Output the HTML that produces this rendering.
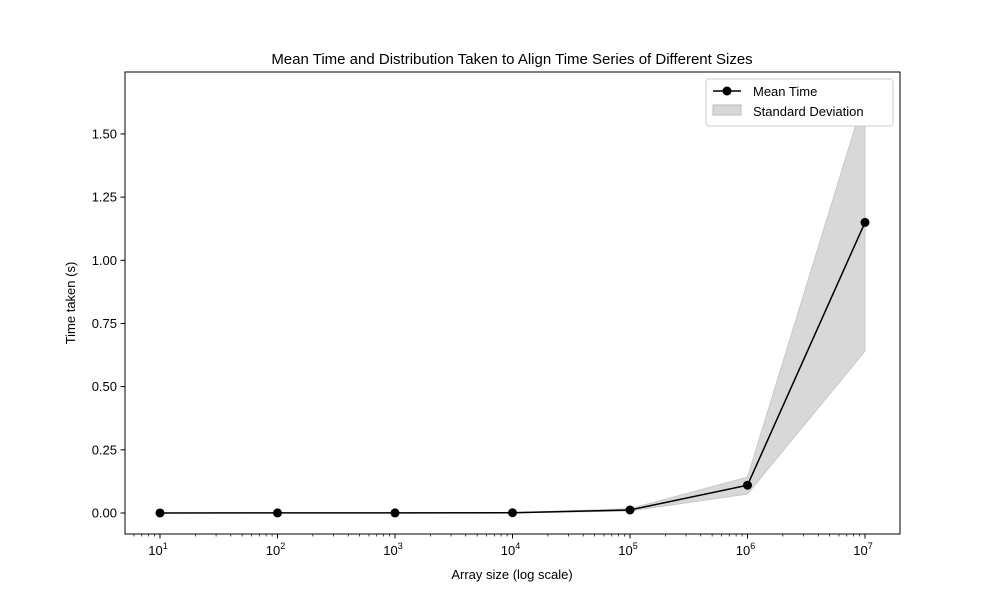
<!DOCTYPE html>
<html><head><meta charset="utf-8"><style>
body{margin:0;background:#fff;}
svg{display:block;font-family:"Liberation Sans","DejaVu Sans",sans-serif;}
</style></head><body>
<svg id="chart" width="1000" height="600">
<text x="512" y="64" font-size="15" text-anchor="middle">Mean Time and Distribution Taken to Align Time Series of Different Sizes</text>
<g id="band"></g>
<g id="line"></g>
<g id="axes"></g>
<rect x="125" y="72" width="775" height="462" fill="none" stroke="#000" stroke-width="1"/>
<text x="512" y="579" font-size="13" text-anchor="middle">Array size (log scale)</text>
<text transform="translate(75,303) rotate(-90)" font-size="13" text-anchor="middle">Time taken (s)</text>
<g>
<rect x="706" y="79" width="187" height="47" rx="3" fill="#fff" fill-opacity="0.97" stroke="#ccc"/>
<g>
<line x1="713" y1="91" x2="741" y2="91" stroke="#000" stroke-width="1.5"/>
<circle cx="727" cy="91" r="4.5" fill="#000"/>
<text x="753" y="96" font-size="13">Mean Time</text></g>
<g>
<rect x="713" y="105" width="28" height="10" fill="#d8d8d8" stroke="#bbb"/>
<text x="753" y="116" font-size="13">Standard Deviation</text></g>
</g>
</svg>
<script>
const sizesExp=[1,2,3,4,5,6,7];
const meanTime=[0.0002,0.0003,0.0004,0.001,0.012,0.11,1.15];
const upperStd=[0.0003,0.0004,0.0005,0.0015,0.017,0.142,1.654];
const lowerStd=[0.0001,0.0002,0.0003,0.0005,0.008,0.075,0.641];
const yTicks=[0,0.25,0.5,0.75,1.0,1.25,1.5];
const yTickLabels=["0.00","0.25","0.50","0.75","1.00","1.25","1.50"];
const NS="http://www.w3.org/2000/svg";
const xs=e=>160+(e-1)*117.5;
const ys=v=>513-v*252.7;
function mk(t,a,p){const el=document.createElementNS(NS,t);for(const k in a)el.setAttribute(k,a[k]);p.appendChild(el);return el;}
const band=document.getElementById('band'),line=document.getElementById('line'),axes=document.getElementById('axes');
let pts=sizesExp.map((e,i)=>xs(e)+','+ys(upperStd[i]));
for(let i=sizesExp.length-1;i>=0;i--)pts.push(xs(sizesExp[i])+','+ys(lowerStd[i]));
const poly=mk('polygon',{points:pts.join(' '),fill:'#d8d8d8',stroke:'#c8c8c8'},band);


const pl=mk('polyline',{points:sizesExp.map((e,i)=>xs(e)+','+ys(meanTime[i])).join(' '),fill:'none',stroke:'#000','stroke-width':1.5},line);


sizesExp.forEach((e,i)=>{const c=mk('circle',{cx:xs(e),cy:ys(meanTime[i]),r:4.5,fill:'#000'},line);

});
sizesExp.forEach(e=>{mk('line',{x1:xs(e),y1:534,x2:xs(e),y2:538.5,stroke:'#000'},axes);
const t=mk('text',{x:xs(e)-2,y:555,'font-size':13,'text-anchor':'middle'},axes);


t.innerHTML='10<tspan font-size="9" dy="-6">'+e+'</tspan>';});
for(let d=0;d<=7;d++)for(let m=2;m<=9;m++){const x=xs(d+Math.log10(m));if(x>125&&x<900)mk('line',{x1:x,y1:534,x2:x,y2:536.5,stroke:'#000','stroke-width':0.7},axes);}
yTicks.forEach((v,i)=>{mk('line',{x1:120.5,y1:ys(v),x2:125,y2:ys(v),stroke:'#000'},axes);
const t=mk('text',{x:117,y:ys(v)+4.5,'font-size':13,'text-anchor':'end'},axes);


t.textContent=yTickLabels[i];});
</script>
</body></html>
